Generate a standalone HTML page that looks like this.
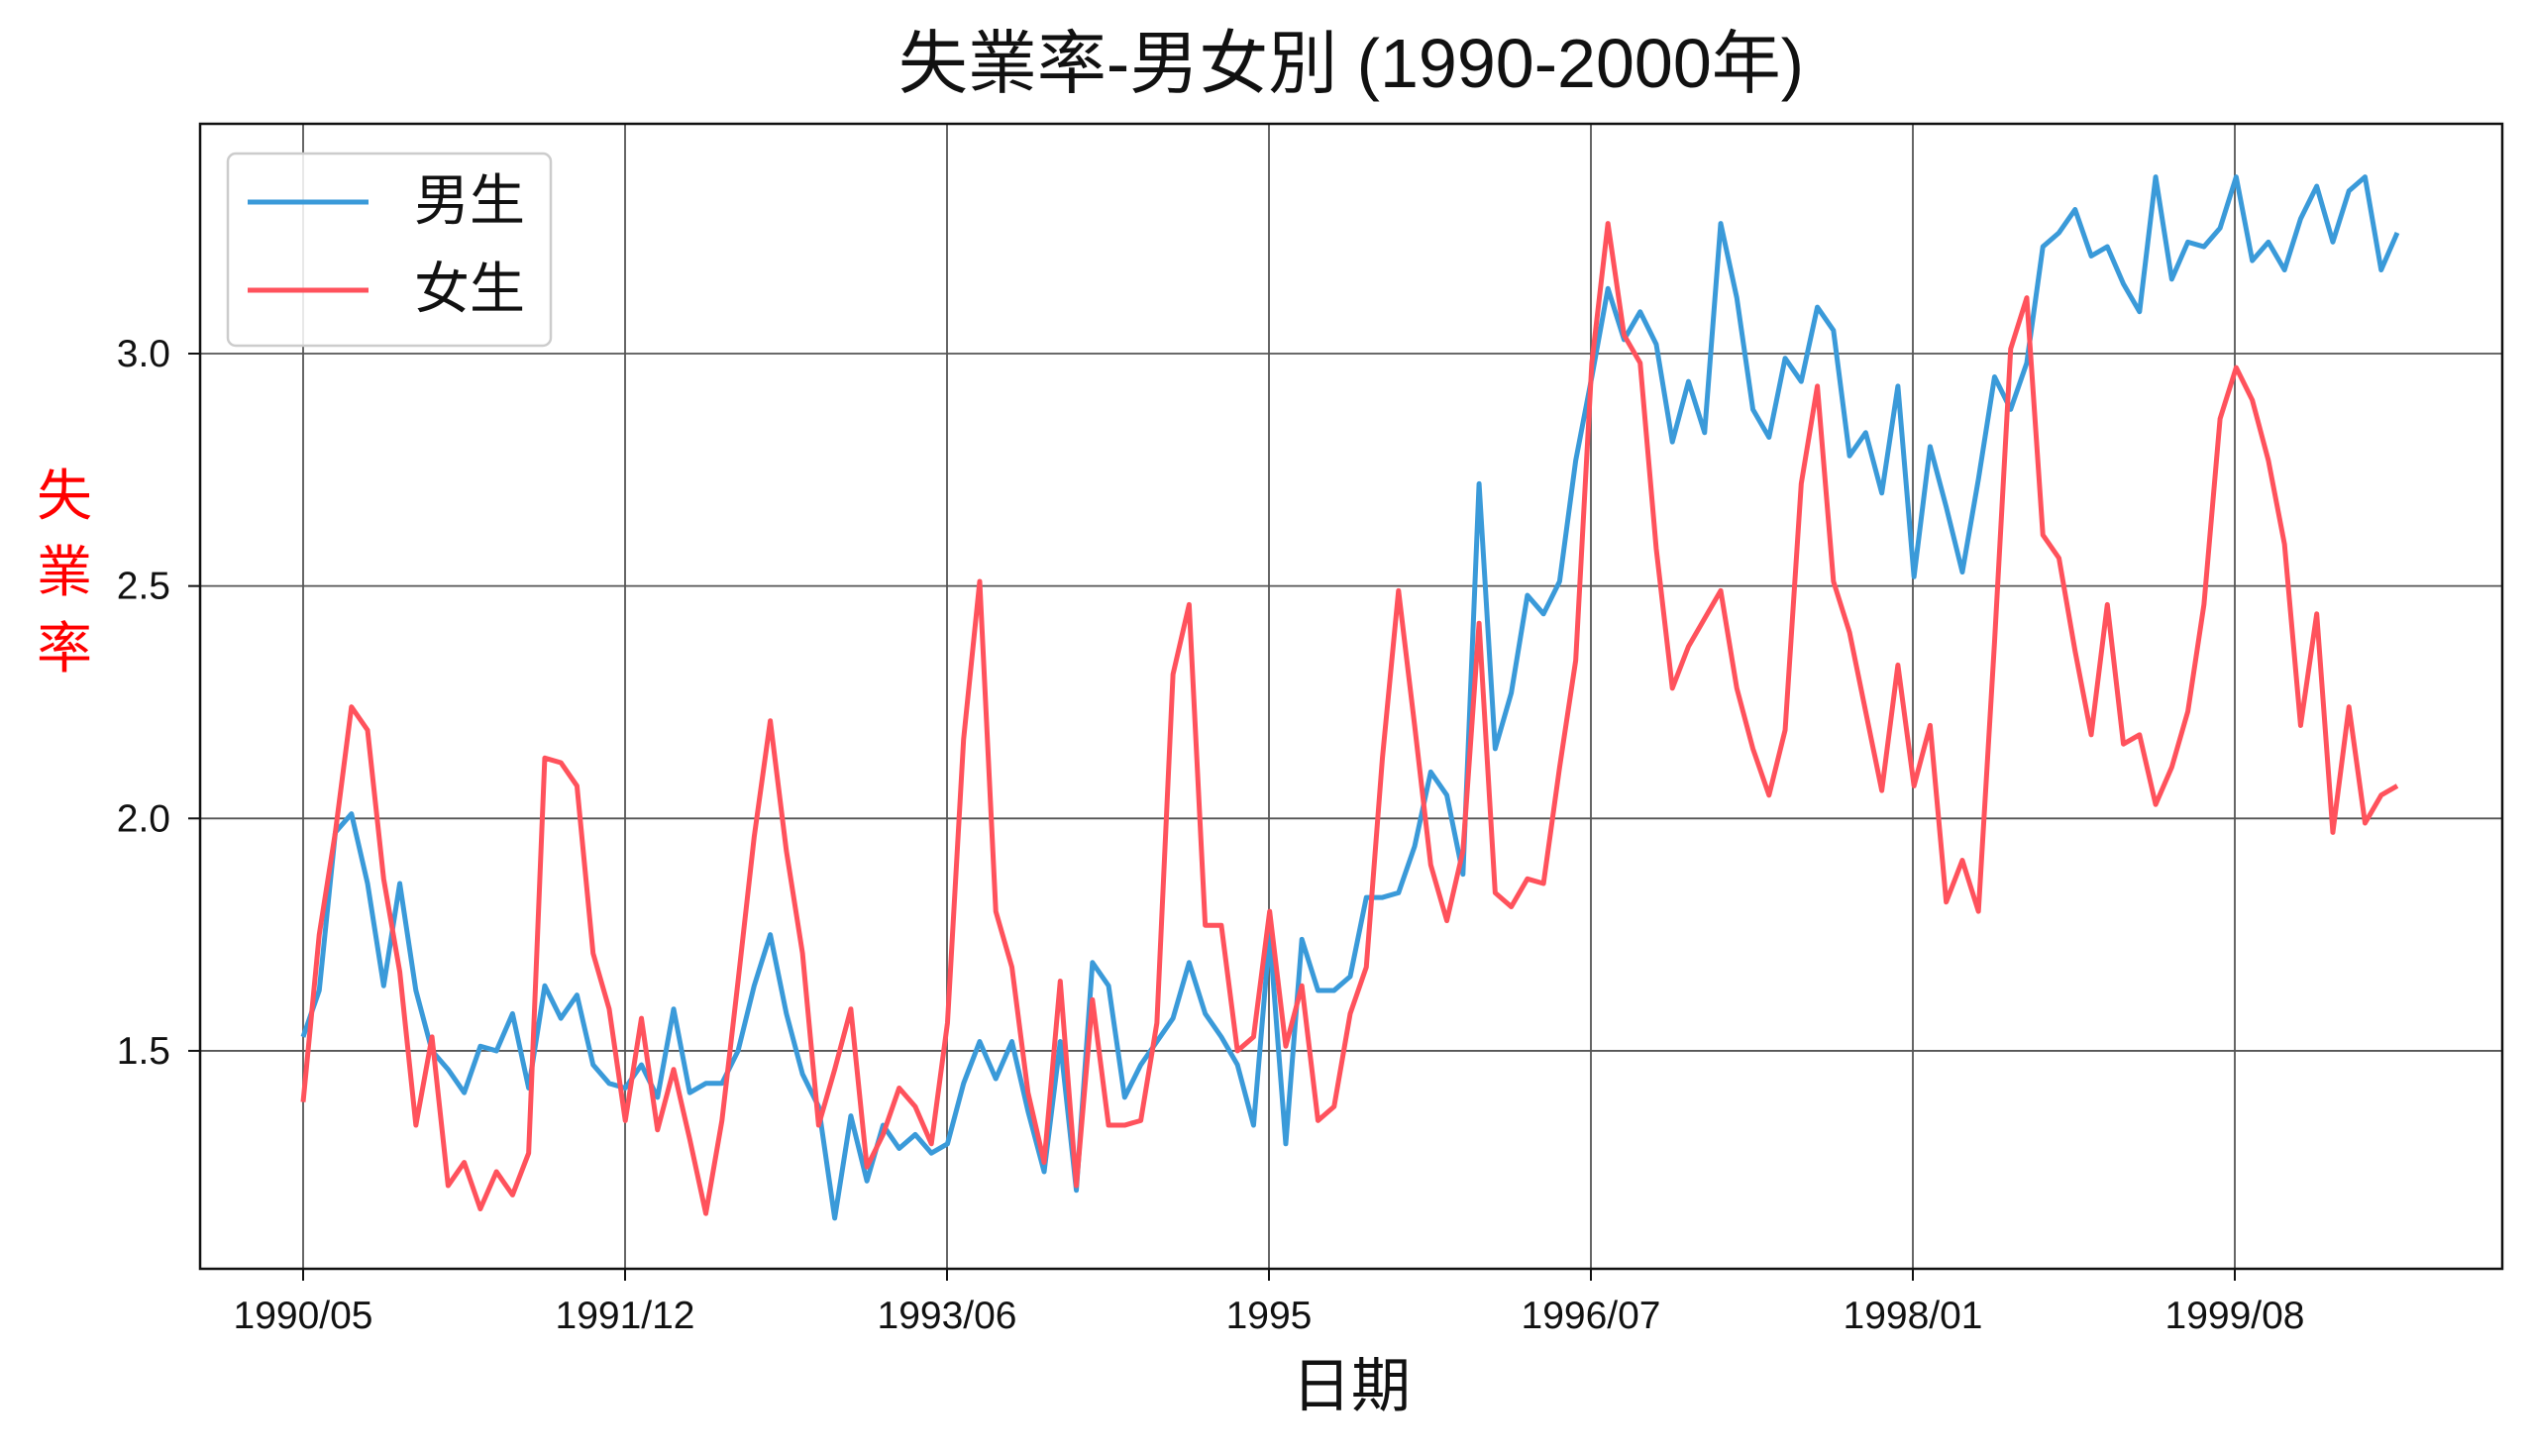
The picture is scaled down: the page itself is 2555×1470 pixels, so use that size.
<!DOCTYPE html>
<html><head><meta charset="utf-8"><style>
body{margin:0;background:#fff}
svg{display:block;font-family:"Liberation Sans","Noto Sans CJK TC",sans-serif}
</style></head><body>
<svg id="chart" width="2555" height="1470" viewBox="0 0 2555 1470">
<rect width="2555" height="1470" fill="#fff"/>
<text x="1364" y="88" font-size="70" text-anchor="middle" fill="#111">失業率-男女別 (1990-2000年)</text>
<g id="grid"></g>
<g id="lines"></g>
<rect x="202" y="125" width="2324" height="1156" fill="none" stroke="#111" stroke-width="2.5"/>
<g id="xticks"></g><g id="yticks"></g>
<text x="1364" y="1420" font-size="60" text-anchor="middle" fill="#111">日期</text>
<g fill="#ff0000" font-size="56" text-anchor="middle">
<text x="65" y="520">失</text><text x="65" y="597">業</text><text x="65" y="674">率</text>
</g>
<g>
<rect x="230" y="155" width="326" height="194" rx="8" fill="#fff" fill-opacity="0.85" stroke="#ccc" stroke-width="2.5"/>
<g><line x1="250" y1="204" x2="372" y2="204" stroke="#3a9ad9" stroke-width="5"/><text x="418" y="222" font-size="56" fill="#111">男生</text></g>
<g><line x1="250" y1="293" x2="372" y2="293" stroke="#ff525c" stroke-width="5"/><text x="418" y="311" font-size="56" fill="#111">女生</text></g>
</g>
</svg>
<script>
const tickLabels=["1990/05","1991/12","1993/06","1995","1996/07","1998/01","1999/08"];
const tickIndex=[0,20,40,60,80,100,120];
const yTicks=[1.5,2.0,2.5,3.0];
const male=[1.53,1.63,1.97,2.01,1.86,1.64,1.86,1.63,1.50,1.46,1.41,1.51,1.50,1.58,1.42,1.64,1.57,1.62,1.47,1.43,1.42,1.47,1.40,1.59,1.41,1.43,1.43,1.50,1.64,1.75,1.58,1.45,1.38,1.14,1.36,1.22,1.34,1.29,1.32,1.28,1.30,1.43,1.52,1.44,1.52,1.37,1.24,1.52,1.20,1.69,1.64,1.40,1.47,1.52,1.57,1.69,1.58,1.53,1.47,1.34,1.75,1.30,1.74,1.63,1.63,1.66,1.83,1.83,1.84,1.94,2.10,2.05,1.88,2.72,2.15,2.27,2.48,2.44,2.51,2.77,2.95,3.14,3.03,3.09,3.02,2.81,2.94,2.83,3.28,3.12,2.88,2.82,2.99,2.94,3.10,3.05,2.78,2.83,2.70,2.93,2.52,2.80,2.67,2.53,2.73,2.95,2.88,2.98,3.23,3.26,3.31,3.21,3.23,3.15,3.09,3.38,3.16,3.24,3.23,3.27,3.38,3.20,3.24,3.18,3.29,3.36,3.24,3.35,3.38,3.18,3.26];
const female=[1.39,1.75,1.97,2.24,2.19,1.87,1.67,1.34,1.53,1.21,1.26,1.16,1.24,1.19,1.28,2.13,2.12,2.07,1.71,1.59,1.35,1.57,1.33,1.46,1.31,1.15,1.35,1.65,1.96,2.21,1.93,1.71,1.34,1.46,1.59,1.25,1.32,1.42,1.38,1.30,1.56,2.17,2.51,1.80,1.68,1.41,1.26,1.65,1.21,1.61,1.34,1.34,1.35,1.56,2.31,2.46,1.77,1.77,1.50,1.53,1.80,1.51,1.64,1.35,1.38,1.58,1.68,2.13,2.49,2.20,1.90,1.78,1.93,2.42,1.84,1.81,1.87,1.86,2.11,2.34,2.98,3.28,3.04,2.98,2.58,2.28,2.37,2.43,2.49,2.28,2.15,2.05,2.19,2.72,2.93,2.51,2.40,2.23,2.06,2.33,2.07,2.20,1.82,1.91,1.80,2.38,3.01,3.12,2.61,2.56,2.36,2.18,2.46,2.16,2.18,2.03,2.11,2.23,2.46,2.86,2.97,2.90,2.77,2.59,2.20,2.44,1.97,2.24,1.99,2.05,2.07];
const NS="http://www.w3.org/2000/svg";
const X0=306,DX=(2420-306)/130,Y3=357,PY=469.3;
const XT=(2256-306)/120;
function xs(i){return X0+i*DX;}
function xt(i){return X0+i*XT;}
function ys(v){return Y3+(3.0-v)*PY;}
function mk(tag,attrs,parent){const e=document.createElementNS(NS,tag);for(const k in attrs)e.setAttribute(k,attrs[k]);parent.appendChild(e);return e;}
const grid=document.getElementById('grid'),xtg=document.getElementById('xticks'),yt=document.getElementById('yticks'),lines=document.getElementById('lines');
tickIndex.forEach((ti,k)=>{
 const x=xt(ti);
 const g=mk('line',{x1:x,x2:x,y1:125,y2:1281,stroke:'#555','stroke-width':1.8},grid);
 
 
 mk('line',{x1:x,x2:x,y1:1281,y2:1293,stroke:'#111','stroke-width':2},xtg);
 const t=mk('text',{x:x,y:1341,'font-size':39,'text-anchor':'middle',fill:'#111'},xtg);
 t.textContent=tickLabels[k];
 
 
});
yTicks.forEach(v=>{
 const y=ys(v);
 const g=mk('line',{x1:202,x2:2526,y1:y,y2:y,stroke:'#555','stroke-width':1.8},grid);
 
 
 mk('line',{x1:190,x2:202,y1:y,y2:y,stroke:'#111','stroke-width':2},yt);
 const t=mk('text',{x:172,y:y+13,'font-size':39,'text-anchor':'end',fill:'#111'},yt);
 t.textContent=v.toFixed(1);
 
 
});
function series(data,color,name){
 const p=mk('polyline',{points:data.map((v,i)=>xs(i)+','+ys(v)).join(' '),fill:'none',stroke:color,'stroke-width':5,'stroke-linejoin':'round'},lines);
 
 
}
series(male,'#3a9ad9','male-line');
series(female,'#ff525c','female-line');
</script>
</body></html>
